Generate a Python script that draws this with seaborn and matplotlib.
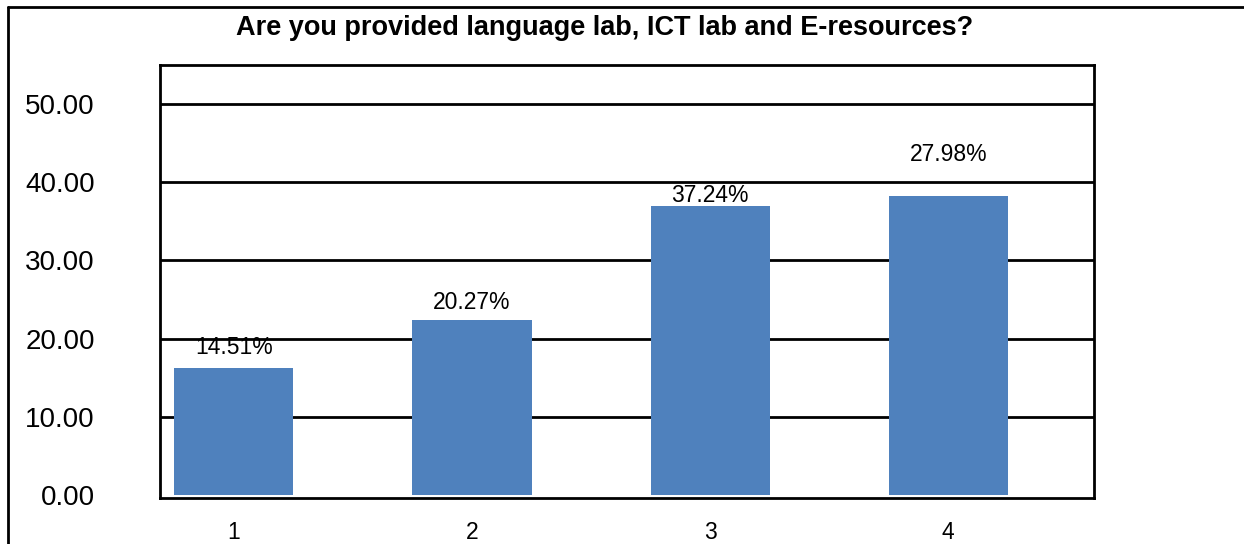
import matplotlib.pyplot as plt
import pandas as pd
import seaborn as sns

# values
categories = ['1', '2', '3', '4']
heights = [16.2, 22.4, 37.0, 38.2]
bar_labels = ['14.51%', '20.27%', '37.24%', '27.98%']
label_gap_px = [21, 17, 10, 42]

df = pd.DataFrame({'Option': categories, 'Value': heights})

sns.set_style('white')
plt.rcParams['font.family'] = ['Liberation Sans', 'DejaVu Sans']
plt.rcParams['text.color'] = 'black'
plt.rcParams['xtick.color'] = 'black'
plt.rcParams['ytick.color'] = 'black'

fig = plt.figure(figsize=(12.44, 5.44), dpi=100)
ax = fig.add_axes([160 / 1244, 46.3 / 544, 934 / 1244, 432.7 / 544])

sns.barplot(data=df, x='Option', y='Value', color='#4F81BD', saturation=1,
            width=0.5, linewidth=0, ax=ax, zorder=3)

ax.set_xlim(-0.31, 3.612)
ax.set_ylim(-0.35, 55)
ax.set_yticks([0, 10, 20, 30, 40, 50])
ax.set_yticklabels([f'{v:.2f}' for v in [0, 10, 20, 30, 40, 50]])
for y in [10, 20, 30, 40, 50]:
    ax.axhline(y, color='black', lw=2, zorder=1)
for s in ax.spines.values():
    s.set_visible(True)
    s.set_color('black')
    s.set_linewidth(2)

ax.tick_params(axis='y', length=0, pad=47, labelsize=20)
ax.tick_params(axis='x', length=0, pad=17, labelsize=16.5)
ax.set_xlabel('')
ax.set_ylabel('')

for i, (h, lab) in enumerate(zip(heights, bar_labels)):
    ax.annotate(lab, (i, h), xytext=(0, label_gap_px[i]), textcoords='offset pixels',
                ha='center', va='center', fontsize=16.5, zorder=4)

fig.text(605 / 1244, 1 - 35 / 544, 'Are you provided language lab, ICT lab and E-resources?',
         ha='center', va='baseline', fontsize=19.5, fontweight='bold')

# outer chart border (top and left visible)
fig.add_artist(plt.Line2D([8 / 1244, 8 / 1244], [0, 1 - 6.5 / 544], color='black', lw=2))
fig.add_artist(plt.Line2D([8 / 1244, 1], [1 - 6.5 / 544, 1 - 6.5 / 544], color='black', lw=2))

fig.savefig('out.png', dpi=100)
